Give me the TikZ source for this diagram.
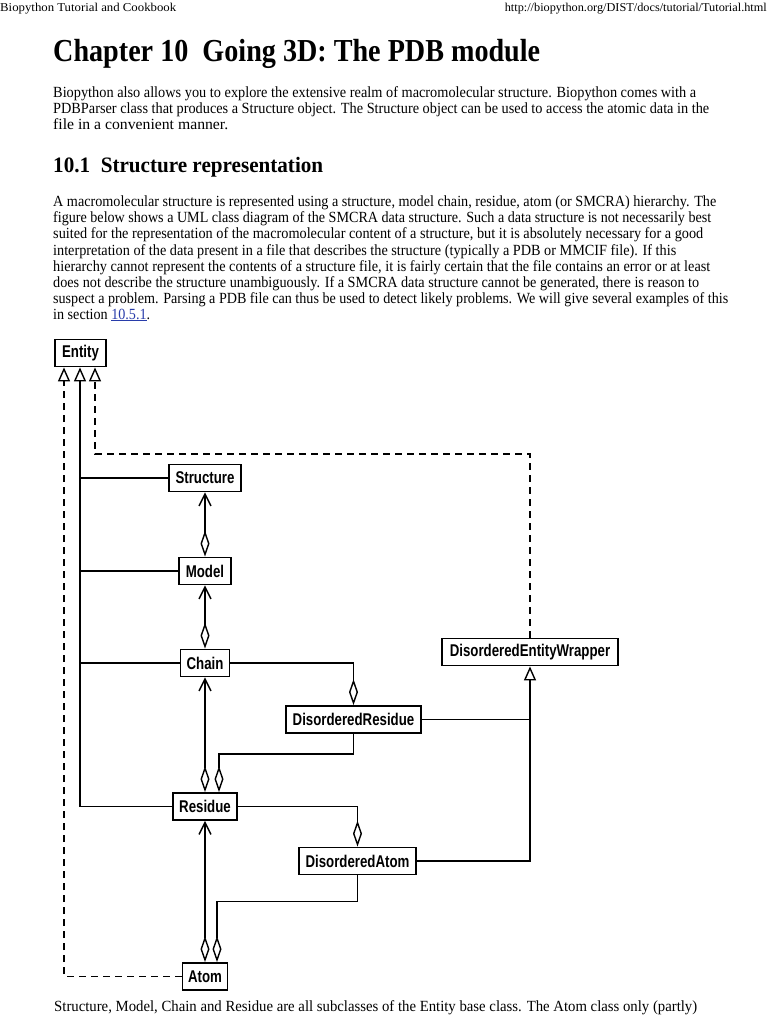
\documentclass[tikz,border=0pt]{standalone}
\usepackage{fontspec}
\usepackage{graphicx}
\setmainfont{Liberation Serif}
\newfontfamily\umlfont{Liberation Sans}[FakeStretch=0.78]
\usetikzlibrary{arrows.meta}
\definecolor{linkblue}{RGB}{40,60,170}
\newcommand\fitline[2]{\resizebox{#1pt}{\height}{#2}}
\begin{document}
\begin{tikzpicture}[x=1pt,y=-1pt,
  cls/.style={draw, line width=1.8pt, inner sep=0pt, minimum height=27pt,
    font=\umlfont\bfseries\fontsize{17}{17}\selectfont},
  conn/.style={line width=1.4pt},
  dashline/.style={dash pattern=on 7pt off 5pt},
  gen/.style={-{Triangle[open,length=14pt,width=12pt,line width=1.4pt]}},
  agg/.style={{Diamond[open,length=26pt,width=9pt,line width=1.4pt]}-},
  aggnav/.style={{Diamond[open,length=26pt,width=9pt,line width=1.4pt]}-{Straight Barb[length=12pt,width=12pt,line width=1.4pt]}},
  txt/.style={anchor=base west, inner sep=0pt, font=\fontsize{15.5}{16}\selectfont},
]
\useasboundingbox (0,0) rectangle (768,1024);
\fill[white] (0,0) rectangle (768,1024);

% ---------- header ----------
\node[anchor=base west, inner sep=0pt, font=\fontsize{12}{12}\selectfont] (hdl) at (0,12) {\fitline{176}{Biopython Tutorial and Cookbook}};
\node[anchor=base east, inner sep=0pt, font=\fontsize{12}{12}\selectfont] (hdr) at (767,12) {\fitline{262}{http://biopython.org/DIST/docs/tutorial/Tutorial.html}};

% ---------- title ----------
\node[anchor=base west, inner sep=0pt, font=\fontsize{32}{32}\selectfont\bfseries] (title) at (53,62) {\fitline{487}{Chapter 10\enspace Going 3D: The PDB module}};

\node[txt] (p1a) at (53,98) {\fitline{643}{Biopython also allows you to explore the extensive realm of macromolecular structure. Biopython comes with a}};
\node[txt] (p1b) at (53,114) {\fitline{656}{PDBParser class that produces a Structure object. The Structure object can be used to access the atomic data in the}};
\node[txt] (p1c) at (53,130) {\fitline{175}{file in a convenient manner.}};

\node[anchor=base west, inner sep=0pt, font=\fontsize{22}{22}\selectfont\bfseries] (sec) at (53,173) {\fitline{270}{10.1\enspace Structure representation}};

\node[txt] (p2a) at (53,207) {\fitline{663}{A macromolecular structure is represented using a structure, model chain, residue, atom (or SMCRA) hierarchy. The}};
\node[txt] (p2b) at (53,223) {\fitline{658}{figure below shows a UML class diagram of the SMCRA data structure. Such a data structure is not necessarily best}};
\node[txt] (p2c) at (53,239) {\fitline{650}{suited for the representation of the macromolecular content of a structure, but it is absolutely necessary for a good}};
\node[txt] (p2d) at (53,255) {\fitline{623}{interpretation of the data present in a file that describes the structure (typically a PDB or MMCIF file). If this}};
\node[txt] (p2e) at (53,271) {\fitline{657}{hierarchy cannot represent the contents of a structure file, it is fairly certain that the file contains an error or at least}};
\node[txt] (p2f) at (53,287) {\fitline{646}{does not describe the structure unambiguously. If a SMCRA data structure cannot be generated, there is reason to}};
\node[txt] (p2g) at (53,303) {\fitline{675}{suspect a problem. Parsing a PDB file can thus be used to detect likely problems. We will give several examples of this}};
\node[txt] (p2h) at (53,319) {\fitline{97}{in section \textcolor{linkblue}{\underline{10.5.1}}.}};

\node[txt] (bot) at (54,1011) {\fitline{643}{Structure, Model, Chain and Residue are all subclasses of the Entity base class. The Atom class only (partly)}};

% ---------- classes ----------
\node[cls, minimum width=51pt] (entity) at (80.5,353) {Entity};
\node[cls, minimum width=72pt] (structure) at (205,478) {Structure};
\node[cls, minimum width=52pt] (model) at (205,571) {Model};
\node[cls, minimum width=49pt] (chain) at (205,663) {Chain};
\node[cls, minimum width=135pt] (dr) at (353.5,719.5) {DisorderedResidue};
\node[cls, minimum width=64pt] (residue) at (205,806.5) {Residue};
\node[cls, minimum width=117pt] (da) at (357.5,861) {DisorderedAtom};
\node[cls, minimum width=45pt] (atom) at (205,976.5) {Atom};
\node[cls, minimum width=176pt] (dew) at (530,652) {DisorderedEntityWrapper};

\path (entity.south) ++(-16.5,0) coordinate (eL);
\path (entity.south) ++(-0.5,0) coordinate (eM);
\path (entity.south) ++(14.5,0) coordinate (eR);
\path (eR) ++(0,86.5) coordinate (bendR);
\path (residue.north) ++(14,0) coordinate (resA);
\path (dr.south) ++(0,20) coordinate (drB);
\path (atom.north) ++(12,0) coordinate (atA);
\path (da.south) ++(0,26) coordinate (daB);

% generalisation to Entity
\draw[conn, dashline, gen] (atom.west) -| (eL);
\draw[conn, gen] (residue.west) -| (eM);
\draw[conn] (structure.west) -- (structure.west -| eM);
\draw[conn] (model.west) -- (model.west -| eM);
\draw[conn] (chain.west) -- (chain.west -| eM);
\draw[conn, dashline, gen] (dew.north) |- (bendR) -- (eR);

% aggregation chain
\draw[conn, aggnav] (model.north) -- (structure.south);
\draw[conn, aggnav] (chain.north) -- (model.south);
\draw[conn, aggnav] (residue.north) -- (chain.south);
\draw[conn, aggnav] (atom.north) -- (residue.south);

% disordered
\draw[conn, agg] (dr.north) |- (chain.east);
\draw[conn, agg] (resA) |- (drB) -- (dr.south);
\draw[conn, agg] (da.north) |- (residue.east);
\draw[conn, agg] (atA) |- (daB) -- (da.south);
\draw[conn, gen] (da.east) -| (dew.south);
\draw[conn] (dr.east) -- (dr.east -| dew.south);
\end{tikzpicture}
\end{document}
